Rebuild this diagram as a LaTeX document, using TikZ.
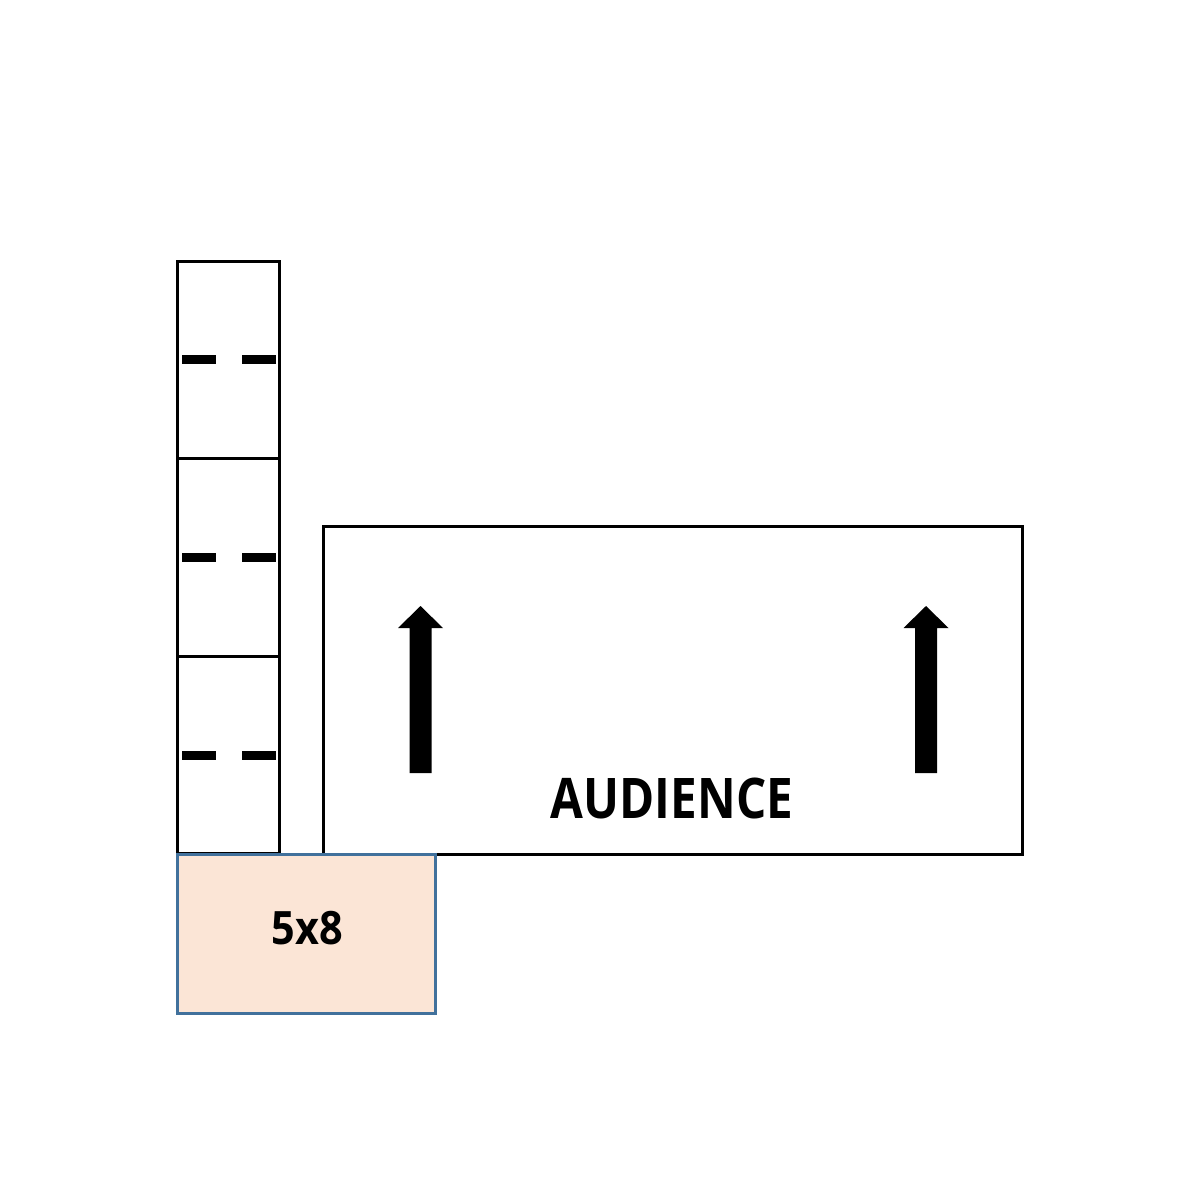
\documentclass[tikz,border=0pt]{standalone}
\usepackage{fontspec}
\usepackage{graphicx}
\setmainfont{Open Sans}
\definecolor{peach}{HTML}{FBE5D6}
\definecolor{boxblue}{HTML}{41719C}
\begin{document}
\begin{tikzpicture}[x=1pt,y=-1pt,
  tablebox/.style={draw=black,line width=3pt,outer sep=0pt,inner sep=0pt,anchor=north west,minimum width=102pt,minimum height=197.5pt},
  dashbar/.style={line width=9pt,black},
  blockarrow/.style={fill=black,draw=none},
  label/.style={inner sep=0pt,outer sep=0pt,font=\bfseries}]
\useasboundingbox (0,0) rectangle (1200,1200);
% column of tables
\node[tablebox] (t1) at (177,261) {};
\node[tablebox] (t2) at (177,458.5) {};
\node[tablebox] (t3) at (177,656) {};
\foreach \n/\y in {t1/359.5,t2/557,t3/755}{
  \draw[dashbar] (182,\y) -- (216,\y);
  \draw[dashbar] (242,\y) -- (276,\y);
}
% audience area
\node[draw=black,line width=3pt,outer sep=0pt,inner sep=0pt,anchor=north west,minimum width=699pt,minimum height=328pt] (aud) at (323,526) {};
\fill[blockarrow] (409.5,773) -- (431.5,773) -- (431.5,628) -- (443,628) -- (420.5,606) -- (398,628) -- (409.5,628) -- cycle;
\fill[blockarrow] (915,773) -- (937,773) -- (937,628) -- (948.5,628) -- (926,606) -- (903.5,628) -- (915,628) -- cycle;
\node[label,font=\fontsize{56}{60}\selectfont\bfseries] (audtext) at (672,798) {\scalebox{0.85}[1]{AUDIENCE}};
% 5x8 platform
\node[draw=boxblue,fill=peach,line width=3pt,outer sep=0pt,inner sep=0pt,anchor=north west,minimum width=258pt,minimum height=159.5pt] (plat) at (177,854) {};
\node[label,font=\fontsize{46}{50}\selectfont\bfseries] (plattext) at (307.5,928.5) {\scalebox{0.9}[1]{5x8}};
\end{tikzpicture}
\end{document}
